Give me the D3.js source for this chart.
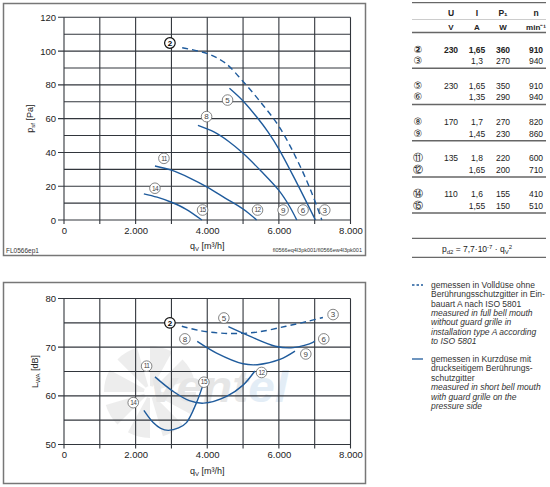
<!DOCTYPE html>
<html>
<head>
<meta charset="utf-8">
<script src="https://cdn.jsdelivr.net/npm/d3@7"></script>
<style>
  body { margin: 0; background: #fff; }
  svg { display: block; font-family: "Liberation Sans", Arial, sans-serif; }
</style>
</head>
<body>
<div id="vizcontainer"></div>
<script>
const qTicks = [0, 2000, 4000, 6000, 8000],
  pTicks = [0, 20, 40, 60, 80, 100, 120],
  lTicks = [50, 60, 70, 80];

// pressure curves, [q m3/h, p Pa]
const pc23 = [[3300, 102], [4000, 98.5], [4500, 93], [5000, 82], [5500, 69.5], [6000, 55.5], [6500, 36], [6900, 17], [7200, 0]],
  pc56 = [[4620, 78], [5000, 70.5], [5400, 60.5], [5700, 52], [6000, 42], [6500, 22], [7020, 0]],
  pc89 = [[3740, 56], [4200, 52], [4600, 46.5], [5000, 39.5], [5500, 29], [6000, 17.5], [6300, 8], [6500, 0]],
  pc1112 = [[2540, 32], [3000, 29.5], [3500, 25], [4000, 19.5], [4500, 13], [5000, 6.5], [5380, 0]],
  pc1415 = [[2230, 15.5], [2600, 13.5], [3000, 10.5], [3400, 6.5], [3850, 0]];

// sound power curves, [q m3/h, L dB]
const lc23 = [[3290, 74.3], [3800, 73.4], [4350, 72.9], [4800, 72.8], [5400, 73.1], [6200, 74.3], [6800, 75.3], [7230, 76.1]],
  lc56 = [[4590, 74.2], [5200, 72.2], [5900, 70.2], [6400, 69.9], [6950, 71], [7000, 71.3]],
  lc89 = [[3720, 71.2], [4260, 68.8], [5000, 66.6], [5400, 66.4], [6030, 67.5], [6450, 69.2]],
  lc1112 = [[2540, 63.9], [3050, 60.9], [3500, 59], [3900, 58.5], [4540, 59.9], [5000, 62.2], [5330, 65.1]],
  lc1415 = [[2230, 57], [2490, 54.5], [2700, 53.3], [2910, 52.9], [3200, 53.4], [3420, 54.5], [3700, 58.6], [3870, 62]];

// curve labels: [label, q, value]
const pLabels = [['2', 2957, 104.8], ['5', 4567, 71], ['8', 3981, 61.2], ['11', 2790, 36.5], ['14', 2539, 18.8],
  ['15', 3870, 5.9], ['12', 5404, 5.9], ['9', 6118, 5.9], ['6', 6676, 5.9], ['3', 7282, 5.9]];
const lLabels = [['2', 2957, 75], ['3', 7513, 76.7], ['5', 4464, 76], ['6', 7254, 71.7], ['8', 3376, 71.7],
  ['9', 6752, 68.6], ['11', 2307, 66.1], ['12', 5516, 64.8], ['14', 1933, 58.6], ['15', 3906, 62.8]];

const tableHead = ['U', 'I', 'P₁', 'n'],
  tableUnits = ['V', 'A', 'W', 'min⁻¹'],
  tableRows = [
    ['②', '230', '1,65', '360', '910'], ['③', '', '1,3', '270', '940'],
    ['⑤', '230', '1,65', '350', '910'], ['⑥', '', '1,35', '290', '940'],
    ['⑧', '170', '1,7', '270', '820'], ['⑨', '', '1,45', '230', '860'],
    ['⑪', '135', '1,8', '220', '600'], ['⑫', '', '1,65', '200', '710'],
    ['⑭', '110', '1,6', '155', '410'], ['⑮', '', '1,55', '150', '510']
  ];

const legendDashed = ['gemessen in Volldüse ohne', 'Berührungsschutzgitter in Ein-', 'bauart A nach ISO 5801',
  'measured in full bell mouth', 'without guard grille in', 'installation type A according', 'to ISO 5801'],
  legendSolid = ['gemessen in Kurzdüse mit', 'druckseitigem Berührungs-', 'schutzgitter',
  'measured in short bell mouth', 'with guard grille on the', 'pressure side'];

const width = 550, height = 487,
  blue = '#1f5b9c',
  gridCol = '#32363c',
  textCol = '#222';

const svg = d3.select('#vizcontainer')
  .append('svg')
  .attr('width', width)
  .attr('height', height);

const x = d3.scaleLinear().domain([0, 8000]).range([64, 350.5]);
const yP = d3.scaleLinear().domain([0, 120]).range([220, 17.3]);
const yL = d3.scaleLinear().domain([50, 80]).range([444.5, 298.5]);

const fmt = d => d3.format(',')(d).replace(/,/g, '.');

// grid lines, straight on the svg
function drawGrid(y, yTicks, gridStep) {
  let [y0, y1] = y.domain();
  let gg = svg.append('g');
  d3.range(0, 8001, 1000).forEach(v => {
    gg.append('line').attr('x1', x(v)).attr('x2', x(v)).attr('y1', y(y1)).attr('y2', y(y0) + 4)
      .attr('stroke', gridCol).attr('stroke-width', 1.1);
  });
  d3.range(y0, y1 + 0.1, gridStep).forEach(v => {
    gg.append('line').attr('x1', yTicks.includes(v) ? x(0) - 6 : x(0)).attr('x2', x(8000))
      .attr('y1', y(v)).attr('y2', y(v))
      .attr('stroke', gridCol).attr('stroke-width', 1.1);
  });
}

// frames
svg.append('rect').attr('x', 3.5).attr('y', 3.5).attr('width', 362).attr('height', 252)
  .attr('fill', 'none').attr('stroke', '#777').attr('stroke-width', 1.5);
svg.append('rect').attr('x', 3.5).attr('y', 282.5).attr('width', 362).attr('height', 201)
  .attr('fill', 'none').attr('stroke', '#777').attr('stroke-width', 1.5);

// watermark in lower chart
let wm = svg.append('g').attr('opacity', 0.5);
const arc = d3.arc().innerRadius(6).outerRadius(46);
d3.range(8).forEach(i => {
  let a = i * Math.PI / 4;
  wm.append('path')
    .attr('d', arc({ startAngle: a, endAngle: a + 0.5 }))
    .attr('transform', 'translate(150,392)')
    .attr('fill', '#dcdcdc');
});
let wmText = wm.append('text').attr('x', 150).attr('y', 402)
  .attr('font-size', 44).attr('font-weight', 'bold').attr('font-style', 'italic')
  .attr('textLength', 138).attr('lengthAdjust', 'spacingAndGlyphs');
wmText.append('tspan').attr('fill', '#cfcfcf').text('vent');
wmText.append('tspan').attr('fill', '#c9dcef').text('el');

drawGrid(yP, pTicks, 10);
drawGrid(yL, lTicks, 5);

function drawAxes(y, yTicks, yTitle, yTitleSub) {
  let g = svg.append('g');
  let [y0, y1] = y.domain();
  g.append('g').attr('transform', `translate(0,${y(y0)})`)
    .call(d3.axisBottom(x).tickValues(qTicks).tickFormat(fmt).tickSize(4).tickPadding(3));
  g.append('g').attr('transform', `translate(${x(0)},0)`)
    .call(d3.axisLeft(y).tickValues(yTicks).tickSize(6).tickPadding(2));
  g.selectAll('.domain').remove();
  g.selectAll('.tick line').remove();
  g.selectAll('.tick text').attr('fill', textCol).attr('font-size', 9.5)
    .attr('font-family', '"Liberation Sans", Arial, sans-serif');

  let xt = g.append('text').attr('x', x(4000)).attr('y', y(y0) + 29)
    .attr('text-anchor', 'middle').attr('font-size', 9).attr('fill', textCol);
  xt.append('tspan').text('q');
  xt.append('tspan').attr('font-size', 6).attr('dy', 2).text('V');
  xt.append('tspan').attr('dy', -2).text(' [m³/h]');

  let ym = (y(y0) + y(y1)) / 2;
  let yt = g.append('text').attr('transform', `translate(${yTitle},${ym}) rotate(-90)`)
    .attr('text-anchor', 'middle').attr('font-size', 9).attr('fill', textCol);
  yt.append('tspan').text(yTitleSub[0]);
  yt.append('tspan').attr('font-size', 6).attr('dy', 2).text(yTitleSub[1]);
  yt.append('tspan').attr('dy', -2).text(yTitleSub[2]);
}

function drawCurves(y, curves, labels) {
  let g = svg.append('g');
  const curveGen = d3.line().x(d => x(d[0])).y(d => y(d[1])).curve(d3.curveCatmullRom.alpha(0.5));
  curves.forEach((c, i) => {
    g.append('path').datum(c).attr('d', curveGen)
      .attr('fill', 'none').attr('stroke', blue).attr('stroke-width', 1.4)
      .attr('stroke-dasharray', i === 0 ? '6,4' : null);
  });
  let m = g.selectAll('.mk').data(labels).join('g')
    .attr('transform', d => `translate(${x(d[1])},${y(d[2])})`);
  m.append('circle').attr('r', 5.3).attr('fill', '#fff')
    .attr('stroke', d => d[0] === '2' ? '#111' : '#666')
    .attr('stroke-width', d => d[0] === '2' ? 1.2 : 0.8);
  m.append('text').attr('text-anchor', 'middle').attr('dy', '0.35em')
    .attr('font-size', d => d[0].length > 1 ? 6.5 : 8)
    .attr('letter-spacing', d => d[0].length > 1 ? -0.6 : 0)
    .attr('font-weight', d => d[0] === '2' ? 'bold' : 'normal')
    .attr('fill', d => d[0] === '2' ? '#000' : '#444')
    .text(d => d[0]);
}

drawAxes(yP, pTicks, 33, ['p', 'sf', ' [Pa]']);
drawAxes(yL, lTicks, 38, ['L', 'WA', ' [dB]']);
drawCurves(yP, [pc23, pc56, pc89, pc1112, pc1415], pLabels);
drawCurves(yL, [lc23, lc56, lc89, lc1112, lc1415], lLabels);

// footer codes
svg.append('text').attr('x', 6).attr('y', 253).attr('font-size', 6.5).attr('fill', '#333').text('FL0566ep1');
svg.append('text').attr('x', 362).attr('y', 252).attr('text-anchor', 'end').attr('font-size', 5.5)
  .attr('fill', '#333').text('fl0566eq4l3pk001/fl0566ew4l3pk001');

// table
let tb = svg.append('g');
const colX = [418, 451, 477, 503, 536],
  tl = 412, tr = 546;
const hline = (yy, w, c) => tb.append('line').attr('x1', tl).attr('x2', tr).attr('y1', yy).attr('y2', yy)
  .attr('stroke', c).attr('stroke-width', w);
hline(2.7, 1, '#444');
hline(19.5, 0.6, '#aaa');
hline(32.5, 1.5, '#666');
tb.selectAll('.th').data(tableHead).join('text')
  .attr('x', (d, i) => colX[i + 1]).attr('y', 16).attr('text-anchor', 'middle')
  .attr('font-size', 8.5).attr('font-weight', 'bold').attr('fill', textCol).text(d => d);
tb.selectAll('.tu').data(tableUnits).join('text')
  .attr('x', (d, i) => colX[i + 1]).attr('y', 29.5).attr('text-anchor', 'middle')
  .attr('font-size', 8).attr('font-weight', 'bold').attr('fill', textCol).text(d => d);

const rowY = i => 52.5 + Math.floor(i / 2) * 36.2 + (i % 2) * 11.6;
tableRows.forEach((r, i) => {
  tb.selectAll(null).data(r).join('text')
    .attr('x', (d, j) => colX[j]).attr('y', rowY(i)).attr('text-anchor', 'middle')
    .attr('font-size', (d, j) => j === 0 ? 10 : 8.5)
    .attr('font-family', (d, j) => j === 0 ? '"DejaVu Sans", sans-serif' : null)
    .attr('font-weight', i === 0 ? 'bold' : 'normal')
    .attr('fill', textCol).text(d => d);
});
d3.range(5).forEach(k => hline(68.3 + k * 36.2, 1.5, '#666'));
hline(238.3, 1, '#444');
hline(257.3, 1, '#444');
let fm = tb.append('text').attr('x', 477).attr('y', 251.5).attr('text-anchor', 'middle')
  .attr('font-size', 8.5).attr('fill', textCol);
fm.append('tspan').text('p');
fm.append('tspan').attr('font-size', 6).attr('dy', 2).text('d2');
fm.append('tspan').attr('dy', -2).text(' = 7,7·10');
fm.append('tspan').attr('font-size', 6).attr('dy', -3).text('-7');
fm.append('tspan').attr('dy', 3).text(' · q');
fm.append('tspan').attr('font-size', 6).attr('dy', 2).text('V');
fm.append('tspan').attr('font-size', 6).attr('dy', -5).text('2');

// legend
let lg = svg.append('g');
lg.append('line').attr('x1', 412).attr('x2', 423).attr('y1', 285).attr('y2', 285)
  .attr('stroke', blue).attr('stroke-width', 1.3).attr('stroke-dasharray', '2.5,2');
lg.append('line').attr('x1', 412).attr('x2', 423).attr('y1', 359).attr('y2', 359)
  .attr('stroke', blue).attr('stroke-width', 1.3);
lg.selectAll('.l1').data(legendDashed).join('text')
  .attr('x', 431).attr('y', (d, i) => 288 + i * 9.35)
  .attr('font-size', 8.5).attr('fill', '#333')
  .attr('font-style', (d, i) => i >= 3 ? 'italic' : 'normal').text(d => d);
lg.selectAll('.l2').data(legendSolid).join('text')
  .attr('x', 431).attr('y', (d, i) => 362 + i * 9.4)
  .attr('font-size', 8.5).attr('fill', '#333')
  .attr('font-style', (d, i) => i >= 3 ? 'italic' : 'normal').text(d => d);
</script>
</body>
</html>
